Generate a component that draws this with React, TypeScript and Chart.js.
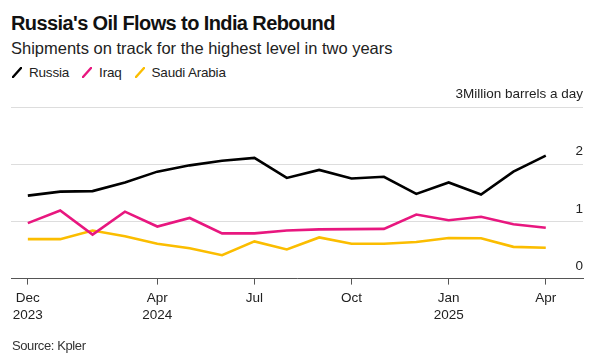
import React, { useEffect, useRef } from "react";
import { Chart, registerables } from "chart.js";

Chart.register(...registerables);

const MONTHS = [
  "2023-12", "2024-01", "2024-02", "2024-03", "2024-04", "2024-05", "2024-06",
  "2024-07", "2024-08", "2024-09", "2024-10", "2024-11", "2024-12", "2025-01",
  "2025-02", "2025-03", "2025-04",
];
const RUSSIA = [1.45, 1.52, 1.53, 1.68, 1.87, 1.98, 2.06, 2.11, 1.76, 1.9, 1.75, 1.78, 1.48, 1.68, 1.47, 1.87, 2.15];
const IRAQ = [0.97, 1.19, 0.77, 1.17, 0.91, 1.06, 0.79, 0.79, 0.84, 0.86, 0.865, 0.87, 1.12, 1.02, 1.08, 0.95, 0.89];
const SAUDI = [0.69, 0.69, 0.84, 0.74, 0.61, 0.53, 0.41, 0.65, 0.51, 0.72, 0.61, 0.61, 0.64, 0.71, 0.705, 0.555, 0.54];

const SERIES_NAMES = ["Russia", "Iraq", "Saudi Arabia"];
const SERIES_COLORS = ["#000000", "#e8177f", "#fbbd00"];

const X_TICK_INDEX = [0, 4, 7, 10, 13, 16];
const X_TICK_LABELS: string[][] = [["Dec", "2023"], ["Apr", "2024"], ["Jul"], ["Oct"], ["Jan", "2025"], ["Apr"]];
const Y_TICKS = [0, 1, 2, 3];
const Y_UNIT = "Million barrels a day";

const FONT = "'Liberation Sans', Arial, sans-serif";

export default function App() {
  const ref = useRef<HTMLCanvasElement | null>(null);

  useEffect(() => {
    document.body.style.margin = "0";
    const canvas = ref.current;
    if (!canvas) return;
    const seriesValues = [RUSSIA, IRAQ, SAUDI];
    const chart = new Chart(canvas, {
      type: "line",
      data: {
        datasets: seriesValues.map((vals, s) => ({
          label: SERIES_NAMES[s],
          data: vals.map((v, i) => ({ x: i, y: v })),
          borderColor: SERIES_COLORS[s],
          backgroundColor: SERIES_COLORS[s],
          borderWidth: 2.6,
          pointRadius: 0,
          tension: 0,
          fill: false,
        })),
      },
      options: {
        animation: false,
        responsive: false,
        maintainAspectRatio: false,
        layout: { padding: { left: 11, right: 13, top: 107, bottom: 32 } },
        plugins: {
          legend: { display: false },
          tooltip: { enabled: false },
          title: { display: false },
        },
        scales: {
          x: {
            type: "linear",
            min: -0.52,
            max: 17.15,
            afterBuildTicks: (scale: any) => {
              scale.ticks = X_TICK_INDEX.map((v) => ({ value: v }));
            },
            grid: {
              display: true,
              drawOnChartArea: false,
              drawTicks: true,
              tickLength: 6,
              color: "#555555",
              lineWidth: 1,
            },
            border: { display: true, color: "#555555", width: 1 },
            ticks: {
              autoSkip: false,
              maxRotation: 0,
              padding: 6,
              color: "#222222",
              font: { family: FONT, size: 13.5, lineHeight: 1.2 },
              callback: (value: any) => {
                const k = X_TICK_INDEX.indexOf(Number(value));
                return k >= 0 ? X_TICK_LABELS[k] : "";
              },
            },
          },
          y: {
            type: "linear",
            position: "right",
            min: 0,
            max: 3,
            afterBuildTicks: (scale: any) => {
              scale.ticks = Y_TICKS.map((v) => ({ value: v }));
            },
            grid: { color: "#dddddd", lineWidth: 1, drawTicks: false },
            border: { display: false },
            ticks: {
              mirror: true,
              padding: 0,
              labelOffset: -12.5,
              color: "#222222",
              font: { family: FONT, size: 13.5 },
              callback: (value: any) => (Number(value) === 3 ? `${value}${Y_UNIT}` : `${value}`),
            },
          },
        },
      },
    });
    return () => chart.destroy();
  }, []);

  return (
    <div style={{ position: "relative", width: 596, height: 361, background: "#fff", fontFamily: FONT, color: "#111" }}>
      <div style={{ position: "absolute", left: 11, top: 13, fontSize: 20, lineHeight: "20px", fontWeight: 700, letterSpacing: "-0.6px", whiteSpace: "nowrap" }}>
        Russia's Oil Flows to India Rebound
      </div>
      <div style={{ position: "absolute", left: 11, top: 40, fontSize: 16.5, lineHeight: "16.5px", color: "#222", whiteSpace: "nowrap" }}>
        Shipments on track for the highest level in two years
      </div>
      <div style={{ position: "absolute", left: 12, top: 66, display: "flex", alignItems: "center", fontSize: 13.5, lineHeight: "13.5px", color: "#222", whiteSpace: "nowrap", letterSpacing: "-0.2px" }}>
        {SERIES_NAMES.map((name, i) => (
          <div key={name} style={{ display: "flex", alignItems: "center", marginRight: 13 }}>
            <svg width="10" height="11" style={{ marginRight: 7 }}>
              <line x1="1" y1="10" x2="9" y2="1" stroke={SERIES_COLORS[i]} strokeWidth="2.4" strokeLinecap="round" />
            </svg>
            <span>{name}</span>
          </div>
        ))}
      </div>
      <canvas ref={ref} width={596} height={361} style={{ position: "absolute", left: 0, top: 0, width: 596, height: 361 }} />
      <div style={{ position: "absolute", left: 12, top: 339, fontSize: 13, lineHeight: "13px", color: "#333", letterSpacing: "-0.4px", whiteSpace: "nowrap" }}>
        Source: Kpler
      </div>
    </div>
  );
}
